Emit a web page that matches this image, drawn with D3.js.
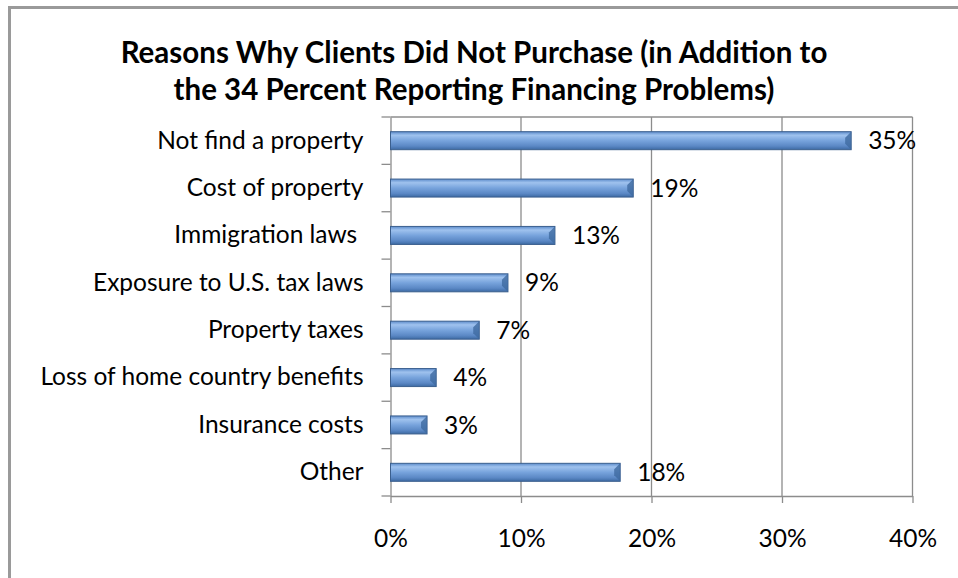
<!DOCTYPE html>
<html><head><meta charset="utf-8">
<script src="https://cdn.jsdelivr.net/npm/d3@7"></script>
<style>body{margin:0;background:#fff}svg{display:block}text{font-family:Lato,"Open Sans",sans-serif}</style>
</head><body><svg id="c" width="958" height="578"></svg>
<script>
const categories = ["Not find a property","Cost of property","Immigration laws ","Exposure to U.S. tax laws","Property taxes","Loss of home country benefits","Insurance costs","Other"];
const values = [35.3, 18.6, 12.6, 9.0, 6.8, 3.5, 2.8, 17.6];
const labels = ["35%","19%","13%","9%","7%","4%","3%","18%"];
const xTicks = [0,10,20,30,40];
const titleLines = ["Reasons Why Clients Did Not Purchase (in Addition to","the 34 Percent Reporting Financing Problems)"];

const svg = d3.select("#c");
const m = {l:390.5, r:912.5, t:117, b:496};
const FS = 24.5;
const x = d3.scaleLinear().domain([0,40]).range([m.l, m.r]);
const y = d3.scaleBand().domain(categories).range([m.t, m.b]).paddingInner(0.62).paddingOuter(0.31);
const yb = d3.scaleBand().domain(categories).range([m.t, m.b]);

// border
svg.append("path").attr("d","M9.5,578 V7.5 H958").attr("fill","none").attr("stroke","#9a9a9a").attr("stroke-width",3);

const defs = svg.append("defs");
const g = defs.append("linearGradient").attr("id","bg").attr("x1",0).attr("y1",0).attr("x2",0).attr("y2",1);
g.append("stop").attr("offset","0").attr("stop-color","#5d8ccb");
g.append("stop").attr("offset","0.2").attr("stop-color","#9fc2ee");
g.append("stop").attr("offset","0.5").attr("stop-color","#77a3dc");
g.append("stop").attr("offset","0.8").attr("stop-color","#5b88c5");
g.append("stop").attr("offset","1").attr("stop-color","#3d6aa3");

// title
svg.append("g").selectAll("text").data(titleLines).join("text")
  .attr("x",474).attr("y",(d,i)=>63+i*36.5).attr("text-anchor","middle")
  .attr("font-size",29.5).attr("font-weight","bold").attr("fill","#000").text(d=>d);

// gridlines
svg.append("g").selectAll("line").data(xTicks.slice(1)).join("line")
  .attr("x1",d=>x(d)).attr("x2",d=>x(d)).attr("y1",m.t).attr("y2",m.b)
  .attr("stroke","#8c8c8c").attr("stroke-width",1.3);
svg.append("line").attr("x1",m.l).attr("x2",m.r).attr("y1",m.t).attr("y2",m.t).attr("stroke","#8c8c8c").attr("stroke-width",1.3);

// x axis
const xa = svg.append("g").attr("transform",`translate(0,${m.b})`)
  .call(d3.axisBottom(x).tickValues(xTicks).tickFormat(d=>d+"%").tickSizeInner(7).tickSizeOuter(0).tickPadding(27));
xa.select(".domain").attr("stroke","#8c8c8c").attr("stroke-width",1.3);
xa.selectAll(".tick line").attr("stroke","#8c8c8c").attr("stroke-width",1.3);
xa.selectAll("text").attr("font-size",FS).attr("fill","#000").attr("font-family","Lato");

// y axis
const ya = svg.append("g").attr("transform",`translate(${m.l},0)`).call(d3.axisLeft(yb).tickSize(0).tickPadding(27));
ya.select(".domain").attr("stroke","#8c8c8c").attr("stroke-width",1.3);
ya.selectAll("text").attr("font-size",FS).attr("fill","#000").attr("font-family","Lato").style("white-space","pre");
// y ticks at boundaries
const bounds = categories.map(c=>yb(c)).concat([m.b]);
svg.append("g").selectAll("line").data(bounds).join("line")
  .attr("x1",m.l-9).attr("x2",m.l).attr("y1",d=>d).attr("y2",d=>d).attr("stroke","#8c8c8c").attr("stroke-width",1.3);

// bars
const bars = svg.append("g").selectAll("g").data(categories).join("g");
bars.append("rect").attr("x",x(0)).attr("y",d=>y(d)).attr("width",(d,i)=>x(values[i])-x(0)).attr("height",y.bandwidth())
  .attr("fill","url(#bg)").attr("stroke","#3b5f8e").attr("stroke-width",1);
// bevel end
bars.append("path").attr("d",(d,i)=>{const xe=x(values[i]), y0=y(d), h=y.bandwidth(); const b=Math.min(6,(xe-x(0))/3);
  return `M${xe},${y0} L${xe-b},${y0+b} L${xe-b},${y0+h-b} L${xe},${y0+h} Z`;}).attr("fill","#3f6aa0").attr("opacity",0.8);
bars.append("text").attr("x",(d,i)=>x(values[i])+17).attr("y",d=>y(d)+y.bandwidth()/2).attr("dy","0.35em")
  .attr("font-size",FS).attr("fill","#000").text((d,i)=>labels[i]);
</script></body></html>
